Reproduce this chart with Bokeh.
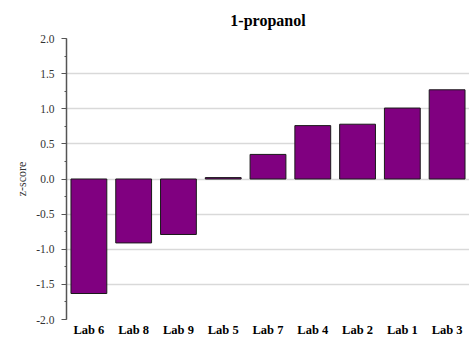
from bokeh.plotting import figure
from bokeh.models import ColumnDataSource, FactorRange, Range1d, SingleIntervalTicker, NumeralTickFormatter
from bokeh.embed import file_html
from bokeh.resources import INLINE

labs = ["Lab 6", "Lab 8", "Lab 9", "Lab 5", "Lab 7", "Lab 4", "Lab 2", "Lab 1", "Lab 3"]
zscores = [-1.63, -0.91, -0.79, 0.02, 0.35, 0.76, 0.78, 1.01, 1.27]
title_text = "1-propanol"
y_label = "z-score"

src = ColumnDataSource(dict(lab=labs, z=zscores))

p = figure(x_range=FactorRange(*labs, range_padding=0), y_range=Range1d(-2.0, 2.0),
           width=469, height=340, output_backend="svg", toolbar_location=None,
           min_border_left=66, min_border_right=0, min_border_top=38, min_border_bottom=21)

p.vbar(x="lab", top="z", bottom=0, width=0.8, source=src,
       fill_color="#800080", line_color="#1a1a1a", line_width=1)

p.title.text = title_text
p.title.align = "center"
p.title.text_font = "Liberation Serif"
p.title.text_font_size = "16px"
p.title.text_font_style = "bold"
p.title.text_color = "#000000"
p.title.standoff = 19

p.outline_line_color = None
p.xgrid.grid_line_color = None
p.ygrid.grid_line_color = "#d9d9d9"
p.ygrid.grid_line_width = 1.5

ya = p.yaxis[0]
ya.ticker = SingleIntervalTicker(interval=0.5, num_minor_ticks=2)
ya.formatter = NumeralTickFormatter(format="0.0")
ya.axis_line_color = "#555555"
ya.axis_line_width = 1.5
ya.major_tick_line_color = "#555555"
ya.minor_tick_line_color = "#555555"
ya.major_tick_out = 5
ya.major_tick_in = 0
ya.minor_tick_out = 2
ya.minor_tick_in = 0
ya.major_label_text_font = "Liberation Serif"
ya.major_label_text_font_size = "11.5px"
ya.major_label_text_color = "#333333"
ya.major_label_standoff = 7
ya.axis_label = y_label
ya.axis_label_text_font = "Liberation Serif"
ya.axis_label_text_font_size = "12px"
ya.axis_label_text_font_style = "normal"
ya.axis_label_text_color = "#333333"
ya.axis_label_standoff = 4

xa = p.xaxis[0]
xa.axis_line_color = None
xa.major_tick_line_color = None
xa.minor_tick_line_color = None
xa.major_tick_out = 0
xa.major_tick_in = 0
xa.major_label_text_font = "Liberation Serif"
xa.major_label_text_font_size = "12.5px"
xa.major_label_text_font_style = "bold"
xa.major_label_text_color = "#000000"
xa.major_label_standoff = 3

open("out.html", "w").write(file_html(p, INLINE))
